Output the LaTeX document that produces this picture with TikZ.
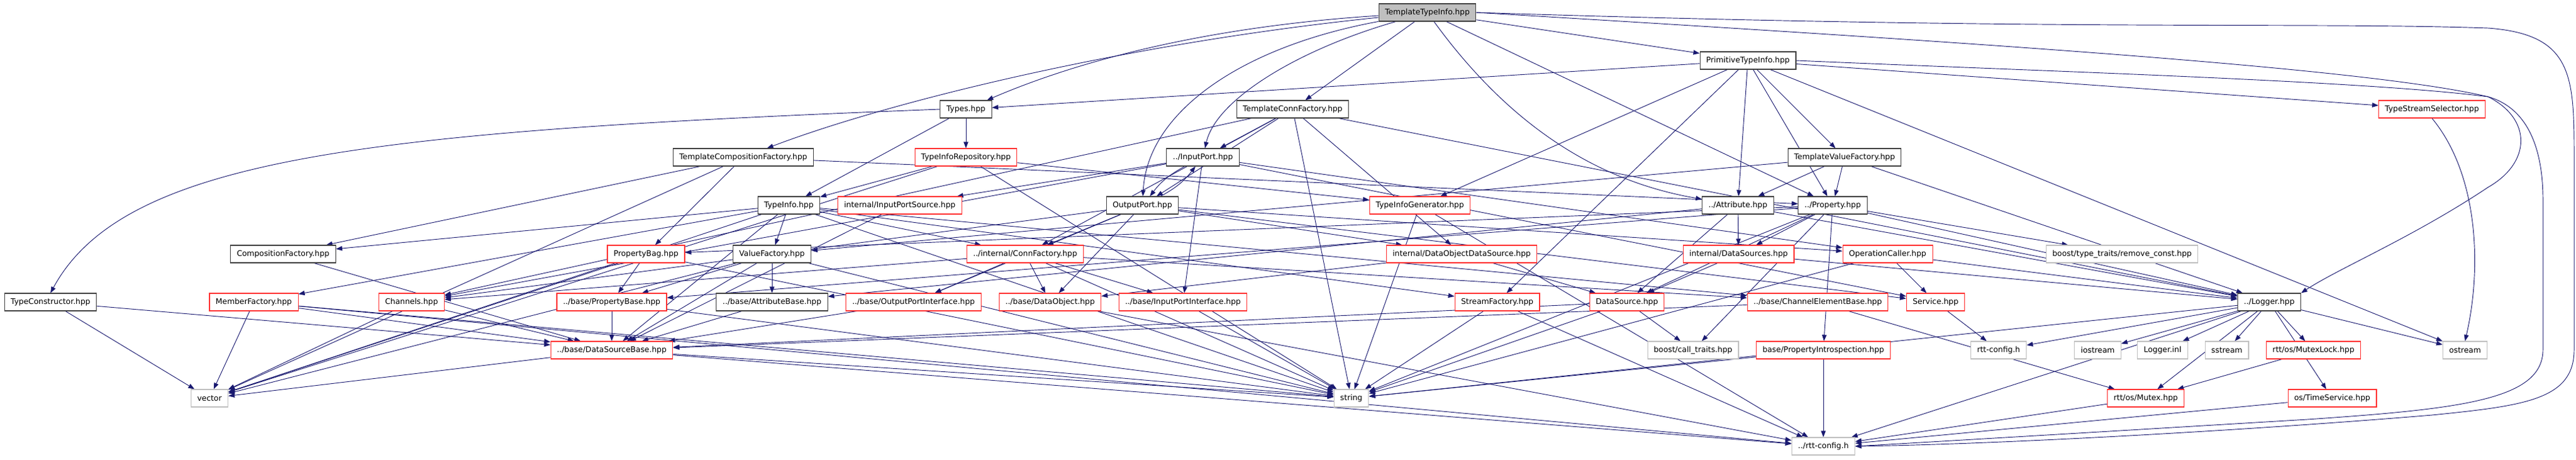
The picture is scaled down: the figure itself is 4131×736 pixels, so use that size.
\documentclass[tikz,border=0pt]{standalone}
\usepackage{fontspec}
\setmainfont{DejaVu Sans}
\usepackage{tikz}
\usetikzlibrary{arrows.meta, backgrounds}
\definecolor{edgeblue}{RGB}{25, 25, 112}
\definecolor{truncred}{RGB}{255, 48, 48}
\definecolor{extgray}{RGB}{191, 191, 191}
\definecolor{docgray}{RGB}{64, 64, 64}

\begin{document}
\begin{tikzpicture}[x=0.75pt, y=-0.75pt,
    hdr/.style={draw=docgray, fill=white, line width=0.8pt, minimum height=21pt, inner xsep=7.5pt, inner ysep=0pt, font=\fontsize{9.3}{11}\selectfont},
    hdrred/.style={hdr, draw=truncred},
    hdrext/.style={hdr, draw=extgray},
    hdrroot/.style={hdr, fill=extgray},
    incl/.style={edgeblue, line width=0.7pt, -{Triangle[length=7.5pt, width=5.5pt]}}]
    \useasboundingbox (0,0) rectangle (4131,736);

    \node[hdrroot] (tti) at (2289,20) {TemplateTypeInfo.hpp};
    \node[hdr] (pti) at (2803,97) {PrimitiveTypeInfo.hpp};

    \node[hdr] (types) at (1549,175) {Types.hpp};
    \node[hdr] (tconn) at (2073,175) {TemplateConnFactory.hpp};
    \node[hdrred] (tss) at (3900,175) {TypeStreamSelector.hpp};

    \node[hdr] (tcomp) at (1192,252) {TemplateCompositionFactory.hpp};
    \node[hdrred] (tirep) at (1549,252) {TypeInfoRepository.hpp};
    \node[hdr] (inport) at (1929,252) {../InputPort.hpp};
    \node[hdr] (tval) at (2958,252) {TemplateValueFactory.hpp};

    \node[hdr] (tinfo) at (1265,329) {TypeInfo.hpp};
    \node[hdrred] (ipsrc) at (1443,329) {internal/InputPortSource.hpp};
    \node[hdr] (outport) at (1832,329) {OutputPort.hpp};
    \node[hdrred] (tigen) at (2277,329) {TypeInfoGenerator.hpp};
    \node[hdr] (attr) at (2787,329) {../Attribute.hpp};
    \node[hdr] (prop) at (2939,329) {../Property.hpp};

    \node[hdr] (compf) at (454,407) {CompositionFactory.hpp};
    \node[hdrred] (pbag) at (1036,407) {PropertyBag.hpp};
    \node[hdr] (valf) at (1238,407) {ValueFactory.hpp};
    \node[hdrred] (connf) at (1644,407) {../internal/ConnFactory.hpp};
    \node[hdrred] (dods) at (2344,407) {internal/DataObjectDataSource.hpp};
    \node[hdrred] (dss) at (2788,407) {internal/DataSources.hpp};
    \node[hdrred] (opc) at (3027,407) {OperationCaller.hpp};
    \node[hdrext] (rmc) at (3403,407) {boost/type\_traits/remove\_const.hpp};

    \node[hdr] (tcons) at (81,484) {TypeConstructor.hpp};
    \node[hdrred] (memf) at (407,484) {MemberFactory.hpp};
    \node[hdrred] (chan) at (660,484) {Channels.hpp};
    \node[hdrred] (pbase) at (981,484) {../base/PropertyBase.hpp};
    \node[hdr] (abase) at (1238,484) {../base/AttributeBase.hpp};
    \node[hdrred] (opi) at (1465,484) {../base/OutputPortInterface.hpp};
    \node[hdrred] (dobj) at (1684,484) {../base/DataObject.hpp};
    \node[hdrred] (ipi) at (1897,484) {../base/InputPortInterface.hpp};
    \node[hdrred] (sfac) at (2401,484) {StreamFactory.hpp};
    \node[hdrred] (dsrc) at (2609,484) {DataSource.hpp};
    \node[hdrred] (ceb) at (2915,484) {../base/ChannelElementBase.hpp};
    \node[hdrred] (serv) at (3104,484) {Service.hpp};
    \node[hdr] (logger) at (3639,484) {../Logger.hpp};

    \node[hdrred] (dsb) at (981,561) {../base/DataSourceBase.hpp};
    \node[hdrext] (calltr) at (2715,561) {boost/call\_traits.hpp};
    \node[hdrred] (pintro) at (2924,561) {base/PropertyIntrospection.hpp};
    \node[hdrext] (rttcfg) at (3205,561) {rtt-config.h};
    \node[hdrext] (iostr) at (3364,561) {iostream};
    \node[hdrext] (linl) at (3468,561) {Logger.inl};
    \node[hdrext] (sstr) at (3571,561) {sstream};
    \node[hdrred] (mlock) at (3710,561) {rtt/os/MutexLock.hpp};
    \node[hdrext] (ostr) at (3953,561) {ostream};

    \node[hdrext] (vec) at (336,638) {vector};
    \node[hdrext] (str) at (2167,638) {string};
    \node[hdrred] (mutex) at (3441,638) {rtt/os/Mutex.hpp};
    \node[hdrred] (tserv) at (3740,638) {os/TimeService.hpp};

    \node[hdrext] (rttcfgp) at (2924,715) {../rtt-config.h};

    \begin{pgfonlayer}{background}
        \draw[incl] (tti) .. controls (1900,45) and (1700,110) .. (types);
        \draw[incl] (tti) .. controls (1800,70) and (1420,165) .. (tcomp);
        \draw[incl] (tti) .. controls (2080,80) and (1950,160) .. (inport);
        \draw[incl] (tti) .. controls (1990,75) and (1840,180) .. (outport);
        \draw[incl] (tti) .. controls (2420,200) and (2560,290) .. (attr);
        \foreach \t in {tconn,pti,prop} \draw[incl] (tti) -- (\t);
        \draw[incl] (tti.east) .. controls (3200,70) and (3800,110) .. (3990,155) .. controls (4060,190) and (4060,260) .. (3990,300) .. controls (3870,380) and (3750,430) .. (logger.north east);
        \draw[incl] (tti.east) .. controls (3300,50) and (3700,35) .. (3990,45) .. controls (4125,55) and (4128,120) .. (4128,250) -- (4128,560) .. controls (4128,640) and (4050,650) .. (3900,665) .. controls (3600,690) and (3200,712) .. (rttcfgp.east);

        \foreach \t in {types,tigen,sfac,attr,prop,tval,tss,ostr} \draw[incl] (pti) -- (\t);
        \draw[incl] (pti.east) .. controls (3300,115) and (3800,130) .. (3990,155) .. controls (4060,175) and (4078,250) .. (4078,320) -- (4078,560) .. controls (4078,640) and (3950,655) .. (3700,672) .. controls (3400,690) and (3100,708) .. (rttcfgp.east);

        \foreach \t in {tirep,tinfo} \draw[incl] (types) -- (\t);
        \draw[incl] (types.west) .. controls (600,210) and (200,250) .. (tcons.north);
        \foreach \t in {connf,inport,outport,str,logger,chan,dods} \draw[incl] (tconn) -- (\t);
        \draw[incl] (tss.south) .. controls (3975,280) and (3980,430) .. (ostr.north);

        \foreach \t in {compf,pbag,prop,vec} \draw[incl] (tcomp) -- (\t);
        \foreach \t in {tinfo,tigen,str,vec} \draw[incl] (tirep) -- (\t);
        \foreach \t in {ipsrc,ipi,chan,serv,opc} \draw[incl] (inport) -- (\t);
        \draw[incl] (inport) to[bend right=12] (outport);
        \foreach \t in {opi,dobj,connf,chan,serv,opc,dods} \draw[incl] (outport) -- (\t);
        \draw[incl] (outport) to[bend right=12] (inport);
        \foreach \t in {valf,attr,prop,logger} \draw[incl] (tval) -- (\t);

        \foreach \t in {compf,memf,vec,str,valf,dsb,ceb,connf,sfac} \draw[incl] (tinfo) -- (\t);
        \draw[incl] (ipsrc) -- (dsb);
        \foreach \t in {str,rttcfgp} \draw[incl] (tigen) -- (\t);
        \foreach \t in {dss,dsrc,abase,logger} \draw[incl] (attr) -- (\t);
        \foreach \t in {pbag,pbase,dss,dsrc,logger,str,rmc,pintro,calltr} \draw[incl] (prop) -- (\t);

        \draw[incl] (compf) -- (dsb);
        \foreach \t in {pbase,vec,str} \draw[incl] (pbag) -- (\t);
        \foreach \t in {abase,pbase,dsb,str,vec} \draw[incl] (valf) -- (\t);
        \foreach \t in {opi,dobj,ipi,chan,ceb,str} \draw[incl] (connf) -- (\t);
        \foreach \t in {dsrc,dobj} \draw[incl] (dods) -- (\t);
        \foreach \t in {dsrc,logger} \draw[incl] (dss) -- (\t);
        \foreach \t in {serv,logger,str} \draw[incl] (opc) -- (\t);

        \foreach \t in {vec,dsb,str,rttcfgp} \draw[incl] (memf) -- (\t);
        \foreach \t in {dsb,vec} \draw[incl] (chan) -- (\t);
        \foreach \t in {vec,dsb} \draw[incl] (tcons) -- (\t);
        \foreach \t in {dsb,str} \draw[incl] (pbase) -- (\t);
        \draw[incl] (abase) -- (dsb);
        \draw[incl] (opi) -- (dsb);
        \draw[incl] (dobj) -- (rttcfgp);
        \draw[incl] (ipi) -- (str);
        \foreach \t in {str,rttcfgp} \draw[incl] (sfac) -- (\t);
        \foreach \t in {calltr,str,dsb} \draw[incl] (dsrc) -- (\t);
        \foreach \t in {dsb,mutex} \draw[incl] (ceb) -- (\t);
        \draw[incl] (serv) -- (rttcfg);
        \foreach \t in {rttcfgp,str} \draw[incl] (pintro) -- (\t);
        \foreach \t in {rttcfg,iostr,linl,sstr,mlock,ostr,tserv,mutex,str,rttcfgp} \draw[incl] (logger) -- (\t);

        \draw[incl] (mlock) -- (mutex);
        \draw[incl] (mutex) -- (rttcfgp);
        \draw[incl] (tserv) -- (rttcfgp);
        \foreach \t in {vec,str,rttcfgp} \draw[incl] (dsb) -- (\t);
    \end{pgfonlayer}
\end{tikzpicture}
\end{document}
